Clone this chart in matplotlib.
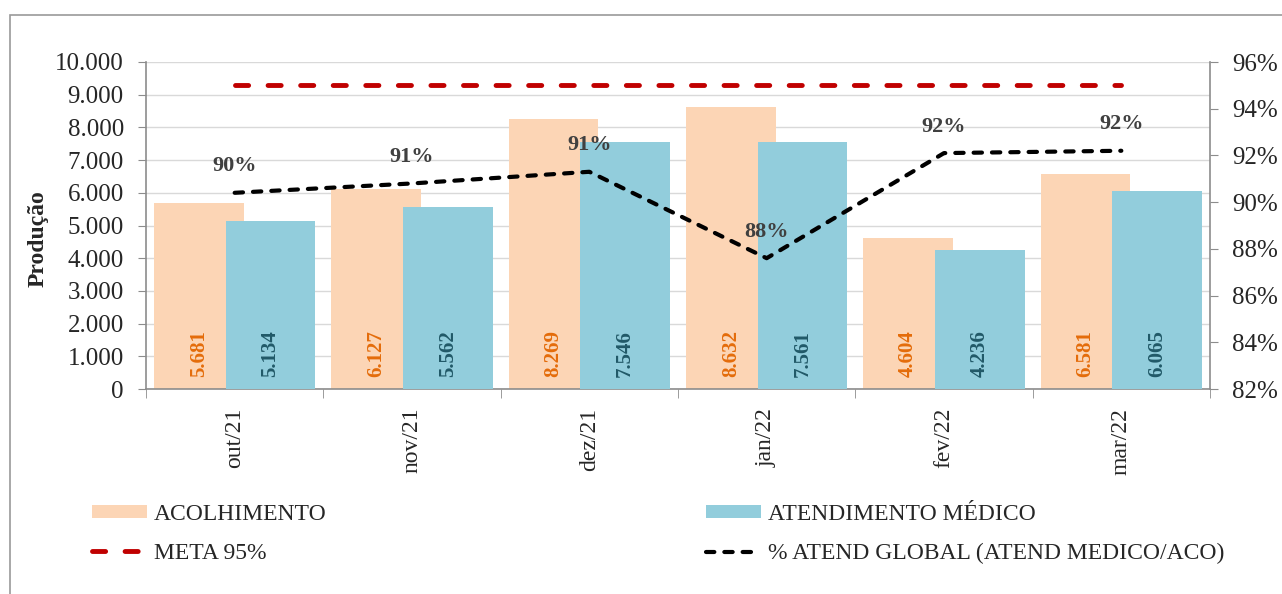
import numpy as np
import matplotlib
matplotlib.use('Agg')
import matplotlib.pyplot as plt
from matplotlib.patches import Rectangle
from matplotlib.ticker import FuncFormatter, FixedLocator

# dados
meses = ['out/21', 'nov/21', 'dez/21', 'jan/22', 'fev/22', 'mar/22']
acolhimento = [5681, 6127, 8269, 8632, 4604, 6581]
atend_medico = [5134, 5562, 7546, 7561, 4236, 6065]
pct_global = [90.4, 90.8, 91.3, 87.6, 92.1, 92.2]
pct_rotulos = ['90%', '91%', '91%', '88%', '92%', '92%']
meta = [95, 95, 95, 95, 95, 95]

plt.rcParams['font.family'] = ['Liberation Serif', 'DejaVu Serif']

cor_aco = '#FCD5B5'
cor_med = '#92CDDC'
cinza = '#8C8C8C'
texto = '#262626'


def milhar(v, pos=None):
    return f'{int(v):,}'.replace(',', '.')


fig = plt.figure(figsize=(12.82, 5.94), dpi=100)
ax = fig.add_axes([146 / 1282, 1 - 389 / 594, (1210 - 146) / 1282, (389 - 62) / 594])

x = np.arange(len(meses))
w = 0.506
off = 0.202
b1 = ax.bar(x - off, acolhimento, w, color=cor_aco, zorder=2, label='ACOLHIMENTO')
b2 = ax.bar(x + off, atend_medico, w, color=cor_med, zorder=3, label='ATENDIMENTO MÉDICO')

for i in range(len(meses)):
    ax.text(x[i] - off, 370, milhar(acolhimento[i]), rotation=90, ha='center', va='bottom',
            fontsize=15, fontweight='bold', color='#E46C0A', zorder=5)
    ax.text(x[i] + off, 370, milhar(atend_medico[i]), rotation=90, ha='center', va='bottom',
            fontsize=15, fontweight='bold', color='#215968', zorder=5)

ax.set_xlim(-0.5, len(meses) - 0.5)
ax.set_ylim(0, 10000)
ax.set_yticks(np.arange(0, 10001, 1000))
ax.yaxis.set_major_formatter(FuncFormatter(milhar))
ax.yaxis.grid(True, color='#D9D9D9', lw=1)
ax.set_axisbelow(True)

ax.set_xticks(x)
ax.set_xticklabels(meses, rotation=90, va='top', ha='center')
ax.xaxis.set_minor_locator(FixedLocator(np.arange(-0.5, len(meses), 1)))
ax.tick_params(axis='x', which='major', length=0, pad=13.5, labelsize=17, labelcolor=texto)
ax.tick_params(axis='x', which='minor', length=6.5, color=cinza, direction='out')
ax.tick_params(axis='y', length=6, color=cinza, direction='out', pad=10, labelsize=18,
               labelcolor=texto)

for s in ['top', 'right']:
    ax.spines[s].set_visible(False)
for s in ['left', 'bottom']:
    ax.spines[s].set_color(cinza)
    ax.spines[s].set_linewidth(1.2)

ax.set_ylabel('Produção', fontsize=17, fontweight='bold', color=texto)
ax.yaxis.set_label_coords(-0.092, 0.46)

# eixo secundario (%)
ax2 = ax.twinx()
ax2.set_ylim(82, 96)
ax2.set_yticks(np.arange(82, 97, 2))
ax2.yaxis.set_major_formatter(FuncFormatter(lambda v, p: f'{int(v)}%'))
ax2.tick_params(axis='y', length=6, color=cinza, direction='out', pad=10, labelsize=18,
                labelcolor=texto)
for s in ['top', 'left', 'bottom']:
    ax2.spines[s].set_visible(False)
ax2.spines['right'].set_color(cinza)
ax2.spines['right'].set_linewidth(1.2)

l_meta, = ax2.plot(x, meta, color='#C00000', lw=3.5, dashes=(2.7, 4), dash_capstyle='round',
                   label='META 95%')
l_pct, = ax2.plot(x, pct_global, color='black', lw=3, dashes=(2, 2.4), dash_capstyle='round',
                  label='% ATEND GLOBAL (ATEND MEDICO/ACO)')

for i in range(len(meses)):
    ax2.annotate(pct_rotulos[i], (x[i], pct_global[i]), xytext=(0, 19), textcoords='offset points',
                 ha='center', va='center', fontsize=16, fontweight='bold', color='#404040')

# legendas
leg_kw = dict(loc='upper left', frameon=False, fontsize=17, handlelength=2.33, handleheight=0.42,
              handletextpad=0.3, borderpad=0, borderaxespad=0, labelspacing=0.75,
              labelcolor=texto)
fig.legend(handles=[b1, l_meta], bbox_to_anchor=(92 / 1282, 1 - 504 / 594), **leg_kw)
fig.legend(handles=[b2, l_pct], bbox_to_anchor=(706 / 1282, 1 - 504 / 594), **leg_kw)

# moldura
fig.add_artist(Rectangle((9.5 / 1282, -0.05), 1.1, 0.05 + (594 - 14.5) / 594,
                         transform=fig.transFigure, fill=False, edgecolor='#9A9A9A', lw=1.2))

fig.savefig('out.png', dpi=100)
